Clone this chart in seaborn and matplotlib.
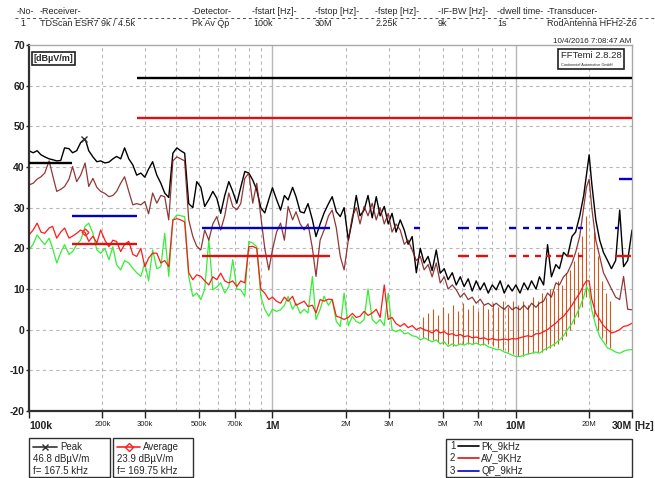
import numpy as np
import pandas as pd
import matplotlib
matplotlib.use("Agg")
import matplotlib.pyplot as plt
import seaborn as sns
from matplotlib.patches import Rectangle
from matplotlib.lines import Line2D

# ---- scan traces: freq in kHz, level in dBuV/m ----
freq_khz = [100, 104, 108, 112, 116, 121, 125, 130, 135, 140, 146, 151, 157, 163, 170, 176,
            183, 190, 197, 205, 213, 221, 229, 238, 247, 257, 267, 277, 288, 299, 310, 322,
            335, 348, 361, 375, 390, 405, 420, 436, 453, 471, 489, 508, 527, 548, 569, 591,
            613, 637, 662, 687, 714, 741, 770, 800, 830, 862, 896, 930, 966, 1000,
            1040, 1080, 1120, 1160, 1210, 1250, 1300, 1350, 1400, 1460, 1510, 1570, 1630, 1700,
            1760, 1830, 1900, 1970, 2050, 2130, 2210, 2290, 2380, 2470, 2570, 2670, 2770, 2880,
            2990, 3100, 3220, 3350, 3480, 3610, 3750, 3900, 4050, 4200, 4360, 4530, 4710, 4890,
            5080, 5270, 5480, 5690, 5910, 6130, 6370, 6620, 6870, 7140, 7410, 7700, 8000, 8300,
            8620, 8960, 9300, 9660, 10000,
            10400, 10800, 11200, 11600, 12100, 12500, 13000, 13500, 14000, 14600, 15100, 15700,
            16300, 17000, 17600, 18300, 19000, 19500, 20000, 20500, 21300, 22100, 22900, 23800,
            24700, 25700, 26700, 27700, 28800, 30000]

# black trace (Pk_9kHz)
pk_9khz = [44, 43.5, 44, 43, 42.5, 42, 41.8, 41.5, 41.6, 44.7,
           44.5, 43.5, 44, 46, 47, 44, 42.5, 41.3, 41.5, 41,
           41.2, 42, 42.6, 42, 44.7, 42, 40.5, 38, 38.5, 37.5,
           39.5, 41.3, 38, 36, 33.6, 32.5, 43.4, 44.7, 44, 43.4,
           31, 30, 36.4, 35, 30.3, 32, 34, 32.3, 28.6, 33,
           36.4, 34, 31.1, 35, 38.9, 38.5, 36.8, 34.4, 30, 28.7,
           32, 34.9,
           32, 29.4, 33, 31.9, 35, 32.7, 29, 28.7, 31, 27,
           22.9, 26, 28.7, 31, 32.7, 29, 27.8, 30, 22, 27,
           33, 28, 29.4, 33, 27.5, 32.7, 28, 30.3, 26, 28.6,
           24, 27, 24.5, 21, 22.9, 14, 20, 16.4, 18, 14.5,
           19.6, 13.9, 15, 12.3, 14, 11, 13, 10.6, 12.5, 9.5,
           12, 9.8, 11.5, 9, 11, 9.8, 12, 9, 11, 9.5,
           11,
           9, 11.5, 9.8, 12, 10, 13, 11, 20.9, 13, 16,
           15, 19, 18, 22.9, 24, 28, 33, 38, 43, 36,
           27, 22, 19, 17, 15, 17, 29.4, 15.5, 17, 24.5]

# dark red trace
qp_trace = [35.6, 36, 37, 37.6, 38.5, 41.5, 38, 34, 34.5, 35.2,
            37, 40.1, 36.4, 38, 41, 35.2, 37.2, 35, 34, 33.5,
            32.7, 33, 34, 36, 37.6, 34, 30.7, 31, 30.7, 31.5,
            28.5, 33.6, 31.1, 33, 32.7, 27, 41.5, 42.5, 42, 41.5,
            27, 22.9, 20.5, 19.6, 24.5, 22, 26, 27.8, 24.5, 28,
            33.6, 30.3, 29.5, 31, 37.2, 38.5, 31.1, 36, 27.8, 20,
            14.7, 19.6,
            24, 26.2, 22, 30.3, 27, 29, 26, 24.5, 26, 20,
            13.1, 22, 24.5, 28, 29.4, 25, 18, 14.7, 22, 27.8,
            30, 26, 30.3, 28, 31.1, 27, 30, 26, 28.6, 24,
            26, 24.5, 21, 22, 19.6, 17, 18, 14.7, 16, 13,
            16.4, 11.5, 13, 10, 11, 9.8, 8, 9, 7.4, 8,
            6.5, 7.5, 6, 6.5, 5.7, 6.5, 5.7, 5, 6, 4.9,
            5.5,
            4.9, 6, 5, 6.5, 5.5, 6.5, 7, 9, 8, 11.5,
            11, 13, 14, 16.4, 19, 23, 30, 35, 37, 30,
            22, 18, 14, 12, 10, 8, 7.4, 13.1, 5, 4.9]

# red trace (AV_9kHz)
av_9khz = [23.3, 24.5, 26.2, 24, 23.7, 25, 25.4, 22.5, 24, 25,
           22.5, 23, 23.7, 24.5, 23.9, 21.7, 23, 21.3, 24.5, 22,
           20.4, 22, 21.7, 19.2, 21, 21.7, 18.5, 18, 20, 15.5,
           17.6, 18.8, 18.8, 16.4, 17, 15.5, 27, 27.3, 27, 26.5,
           14, 12.3, 13.5, 13.1, 12, 11, 13, 12.3, 13.9, 12,
           11.5, 12, 10.6, 12, 11.5, 20.4, 20.5, 20, 10, 9,
           7.4, 8,
           7, 6.5, 8, 7, 8.2, 6, 6.5, 7, 5.7, 6,
           4.1, 7.4, 7, 7.5, 7.4, 3.3, 3, 2.5, 3, 4,
           3, 3.3, 4.5, 3.5, 4.1, 5, 3, 11, 2.5, 3,
           1.5, 0.8, 1.5, 0.5, 1, 0, 0.5, 0, -0.3, -0.8,
           0, -0.8, -0.5, -1.2, -1, -1.5, -1.2, -1.7, -1.5, -2,
           -1.8, -2.2, -2, -2.5, -2.2, -2.5, -2.5, -2.3, -2.5, -2.2,
           -2.3,
           -2, -1.7, -1.5, -1.7, -1, -1, -0.5, 0, 0.8, 1.6,
           2.5, 3.3, 4.5, 6, 7.5, 9, 11, 12, 12, 7.5,
           4, 2.5, 1, 0, -0.8, -0.5, 0, 0.8, 1, 1.6]

# green trace
min_trace = [19.6, 21, 23.3, 22, 20.9, 22.5, 20, 16.4, 19, 20.9,
             18.5, 19.2, 20.9, 22, 25.4, 26.2, 23.7, 19.6, 18.8, 20,
             17.2, 20.4, 16, 14.7, 17, 16.4, 15.1, 14, 13.1, 16.4,
             12, 19.6, 15, 15.5, 23.7, 13.1, 27, 28.2, 28, 27.8,
             13.1, 8.2, 9, 7.4, 10, 22.1, 9.8, 10.5, 11.5, 9,
             10.6, 17.2, 10, 9.8, 8.2, 21.7, 21.3, 20.4, 8.2, 5,
             3.3, 5,
             4.5, 4.9, 6, 8.2, 5, 6.5, 4, 5, 4.1, 13.1,
             2.5, 5, 8.2, 6, 7.4, 2, 0.8, 9, 1, 3.3,
             2, 1.6, 2.5, 10, 2.5, 1.5, 2.5, 1, 9, 0,
             -0.5, 0, -1, -0.8, -1.5, -1.7, -2.5, -2, -2.5, -3,
             -2.5, -3.5, -3, -4.1, -3.5, -4, -3.5, -3.8, -3.3, -3.6,
             -3.3, -3.8, -3.5, -4.2, -4.5, -4.9, -4.9, -5.5, -5.8, -6.3,
             -6.6,
             -6.6, -6.3, -6, -5.8, -5.5, -5.8, -5, -4.5, -4, -3.3,
             -2.5, -1.5, 0, 1.5, 3.3, 5.5, 8, 10.6, 9.5, 4.9,
             1, -1.7, -3, -4.5, -4.9, -5.5, -5.8, -5.3, -5, -4.9]

# harmonic comb 4M..25M
comb_mhz = [4.14, 4.34, 4.56, 4.78, 5.01, 5.25, 5.51, 5.77, 6.05, 6.35, 6.65, 6.98, 7.31, 7.67,
            8.04, 8.43, 8.84, 9.27, 9.72, 10.19, 10.68, 11.2, 11.75, 12.31, 12.79, 13.29, 13.8,
            14.33, 14.89, 15.46, 16.06, 16.69, 17.33, 17.99, 18.69, 19.41, 20.94, 21.75, 22.59,
            23.46, 24.37]
comb_top = [3, 4, 5, 3.5, 5.5, 4, 6, 4.5, 6.5, 5, 6, 4.5, 6, 5, 6.5, 5.5, 7, 5.5, 7, 6,
            7, 6, 8, 7, 9, 8, 10, 9.5, 12, 11, 14, 14.7, 17, 19, 23, 28, 24, 18, 12, 9, 7]
comb_low = [-2, -2.5, -2.5, -3, -3.5, -3.5, -4, -3.5, -3.5, -3.5, -3.5, -3.5, -3.8, -3.5,
            -4, -4.5, -5, -5.5, -6, -6.5, -6.5, -6, -5.8, -5.5, -5.5, -5, -4.5, -4, -3.5,
            -2.5, -1.5, 0, 1.5, 3, 5.5, 8, 3, 0, -2, -3.5, -4.5]

# limit lines, kHz
pk_lim_start = [100, 278]
pk_lim_stop = [150, 30000]
pk_lim_level = [41, 62]

av_lim_start = [150, 278, 515, 5770, 6850, 9360, 10680, 11970, 13290, 14600, 16220, 17990, 25550]
av_lim_stop = [278, 30000, 1730, 6410, 7670, 10000, 11310, 12670, 13930, 15460, 17160, 18860, 29700]
av_lim_level = [21, 52, 18, 18, 18, 18, 18, 18, 18, 18, 18, 18, 18]

qp_lim_start = [150, 515, 3800, 5770, 6850, 9360, 10680, 11970, 13290, 14600, 16220, 17990, 25550, 26540]
qp_lim_stop = [278, 1730, 4030, 6410, 7670, 10000, 11310, 12670, 13930, 15460, 17160, 18860, 26540, 30000]
qp_lim_level = [28, 25, 25, 25, 25, 25, 25, 25, 25, 25, 25, 25, 25, 37]

xtick_khz = [100, 200, 300, 500, 700, 1000, 2000, 3000, 5000, 7000, 10000, 20000, 30000]
xtick_lbl = ['100k', '200k', '300k', '500k', '700k', '1M', '2M', '3M', '5M', '7M', '10M', '20M', '30M']
xtick_bold = ['100k', '1M', '10M', '30M']

hdr_names = ['-No-', '-Receiver-', '-Detector-', '-fstart [Hz]-', '-fstop [Hz]-',
             '-fstep [Hz]-', '-IF-BW [Hz]-', '-dwell time-', '-Transducer-']
hdr_values = ['1', 'TDScan ESR7 9k / 4.5k', 'Pk Av Qp', '100k', '30M', '2.25k', '9k', '1s',
              'RodAntenna HFH2-Z6']

sns.set_theme(style="white")
plt.rcParams['font.family'] = ['Liberation Sans', 'DejaVu Sans']

W, H = 655, 478
def fx(x): return x / W
def fy(y): return 1 - y / H

fig = plt.figure(figsize=(W / 100, H / 100), dpi=100)
ax = fig.add_axes([fx(29), fy(411), 603 / W, 366 / H])

df = pd.DataFrame({'freq': np.array(freq_khz) * 1e3, 'pk': pk_9khz, 'qp': qp_trace,
                   'av': av_9khz, 'mn': min_trace})

ax.set_xscale('log')
ax.vlines(np.array(comb_mhz) * 1e6, comb_low, comb_top, colors='#cc5a1e', lw=0.8, zorder=1.8)
sns.lineplot(data=df, x='freq', y='mn', color='#36ee36', lw=0.9, estimator=None, sort=False, ax=ax, zorder=2)
sns.lineplot(data=df, x='freq', y='av', color='#ff1a1a', lw=0.9, estimator=None, sort=False, ax=ax, zorder=2.2)
sns.lineplot(data=df, x='freq', y='pk', color='black', lw=1.0, estimator=None, sort=False, ax=ax, zorder=2.3)
sns.lineplot(data=df, x='freq', y='qp', color='#7d1515', lw=0.9, alpha=0.85, estimator=None, sort=False, ax=ax, zorder=2.4)

ax.plot([167.5e3], [46.8], marker='x', color='#333333', ms=5, mew=1, zorder=4)
ax.plot([169.75e3], [23.9], marker='D', mfc='none', mec='#ff3030', ms=3.5, mew=1, zorder=4)

ax.hlines(pk_lim_level, np.array(pk_lim_start) * 1e3, np.array(pk_lim_stop) * 1e3, colors='black', lw=1.7, zorder=3)
ax.hlines(av_lim_level, np.array(av_lim_start) * 1e3, np.array(av_lim_stop) * 1e3, colors='#e01010', lw=1.7, zorder=3)
ax.hlines(qp_lim_level, np.array(qp_lim_start) * 1e3, np.array(qp_lim_stop) * 1e3, colors='#0000cc', lw=1.7, zorder=3)

# grid
for f in [200, 300, 400, 500, 600, 700, 800, 900, 2000, 3000, 4000, 5000, 6000, 7000, 8000, 9000, 20000]:
    ax.axvline(f * 1e3, color='#b8b8b8', lw=0.8, ls=(0, (3, 3)), zorder=1)
for f in [1000, 10000]:
    ax.axvline(f * 1e3, color='#b8b8b8', lw=1.0, zorder=1)
for yv in range(-10, 70, 10):
    ax.axhline(yv, color='#b8b8b8', lw=0.8, ls=(0, (3, 3)), zorder=1)

ax.set_xlim(1e5, 3e7)
ax.set_ylim(-20, 70)
ax.set_xlabel('')
ax.set_ylabel('')
ax.minorticks_off()
ax.set_xticks(np.array(xtick_khz) * 1e3)
ax.set_xticklabels(xtick_lbl)
for t in ax.get_xticklabels():
    if t.get_text() in xtick_bold:
        t.set_fontweight('bold')
        t.set_fontsize(7.5)
    else:
        t.set_fontsize(5.5)
    if t.get_text() == '100k':
        t.set_ha('left')
    if t.get_text() == '30M':
        t.set_ha('right')
ax.set_yticks(range(-20, 71, 10))
ax.set_yticklabels([str(v) for v in range(-20, 71, 10)], fontweight='bold', fontsize=7.5)
ax.tick_params(axis='x', length=5, width=1, pad=2, direction='out', bottom=True, colors='#202020')
ax.tick_params(axis='y', length=2, width=1, pad=1, direction='out', left=True, colors='#202020')
for s in ['left', 'bottom']:
    ax.spines[s].set_color('#303030')
    ax.spines[s].set_linewidth(1.6)
for s in ['top', 'right']:
    ax.spines[s].set_color('#a8a8a8')
    ax.spines[s].set_linewidth(1.0)
fig.text(fx(634), fy(426), '[Hz]', fontsize=7.5, fontweight='bold', va='center', ha='left')

ax.text(0.008, 0.975, '[dB\u00b5V/m]', transform=ax.transAxes, fontsize=6.5, fontweight='bold',
        va='top', ha='left', zorder=5,
        bbox=dict(boxstyle='square,pad=0.2', fc='white', ec='#202020', lw=1.2))

# header block
hdr_x = [17, 40, 192, 252, 315, 375, 438, 497, 547]
val_x = [20, 40, 192, 253, 315, 376, 438, 497, 547]
for x, s in zip(hdr_x, hdr_names):
    fig.text(fx(x), fy(11.5), s, fontsize=6.5, va='center', ha='left')
for x, s in zip(val_x, hdr_values):
    fig.text(fx(x), fy(23), s, fontsize=6.5, va='center', ha='left')
fig.add_artist(Line2D([fx(15), fx(655)], [fy(18), fy(18)], transform=fig.transFigure,
                      color='#505050', lw=0.7, ls=(0, (3, 3))))

fig.text(fx(631), fy(41.5), '10/4/2016 7:08:47 AM', fontsize=5.8, va='center', ha='right')
fig.add_artist(Rectangle((fx(558), fy(69)), 66 / W, 20 / H, transform=fig.transFigure,
                         fill=True, fc='white', ec='#202020', lw=1.2, zorder=5))
fig.text(fx(561), fy(56), 'FFTemi 2.8.28', fontsize=6.8, va='center', ha='left', zorder=6)
fig.text(fx(561), fy(65), 'Continental Automotive GmbH', fontsize=2.8, va='center', ha='left', zorder=6)


def box(x0, y0, x1, y1):
    fig.add_artist(Rectangle((fx(x0), fy(y1)), (x1 - x0) / W, (y1 - y0) / H,
                             transform=fig.transFigure, fill=False, ec='#303030', lw=1.0))


def sample(x0, x1, y, color, marker=None):
    fig.add_artist(Line2D([fx(x0), fx(x1)], [fy(y), fy(y)], transform=fig.transFigure,
                          color=color, lw=1.2))
    if marker:
        fig.add_artist(Line2D([fx((x0 + x1) / 2)], [fy(y)], transform=fig.transFigure,
                              marker=marker, color=color, mfc='none', ms=4, mew=1))


# marker boxes
box(29, 438, 110, 477)
sample(33, 57, 446.5, '#333333', 'x')
fig.text(fx(60), fy(446.5), 'Peak', fontsize=7, va='center')
fig.text(fx(33), fy(459), '46.8 dB\u00b5V/m', fontsize=7, va='center')
fig.text(fx(33), fy(470.5), 'f= 167.5 kHz', fontsize=7, va='center')

box(113, 438, 193, 477)
sample(117, 140, 446.5, '#ff2020', 'D')
fig.text(fx(143), fy(446.5), 'Average', fontsize=7, va='center')
fig.text(fx(117), fy(459), '23.9 dB\u00b5V/m', fontsize=7, va='center')
fig.text(fx(117), fy(470.5), 'f= 169.75 kHz', fontsize=7, va='center')

# trace legend
box(446, 439, 632, 477)
leg_rows = [('1', 'Pk_9kHz', 'black'), ('2', 'AV_9KHz', '#e01010'), ('3', 'QP_9kHz', '#0000cc')]
for i, (n, name, c) in enumerate(leg_rows):
    yy = 446 + 12.3 * i
    fig.text(fx(450), fy(yy), n, fontsize=7, va='center')
    sample(458, 479, yy, c)
    fig.text(fx(481), fy(yy), name, fontsize=7, va='center')

fig.savefig('out.png', dpi=100)
